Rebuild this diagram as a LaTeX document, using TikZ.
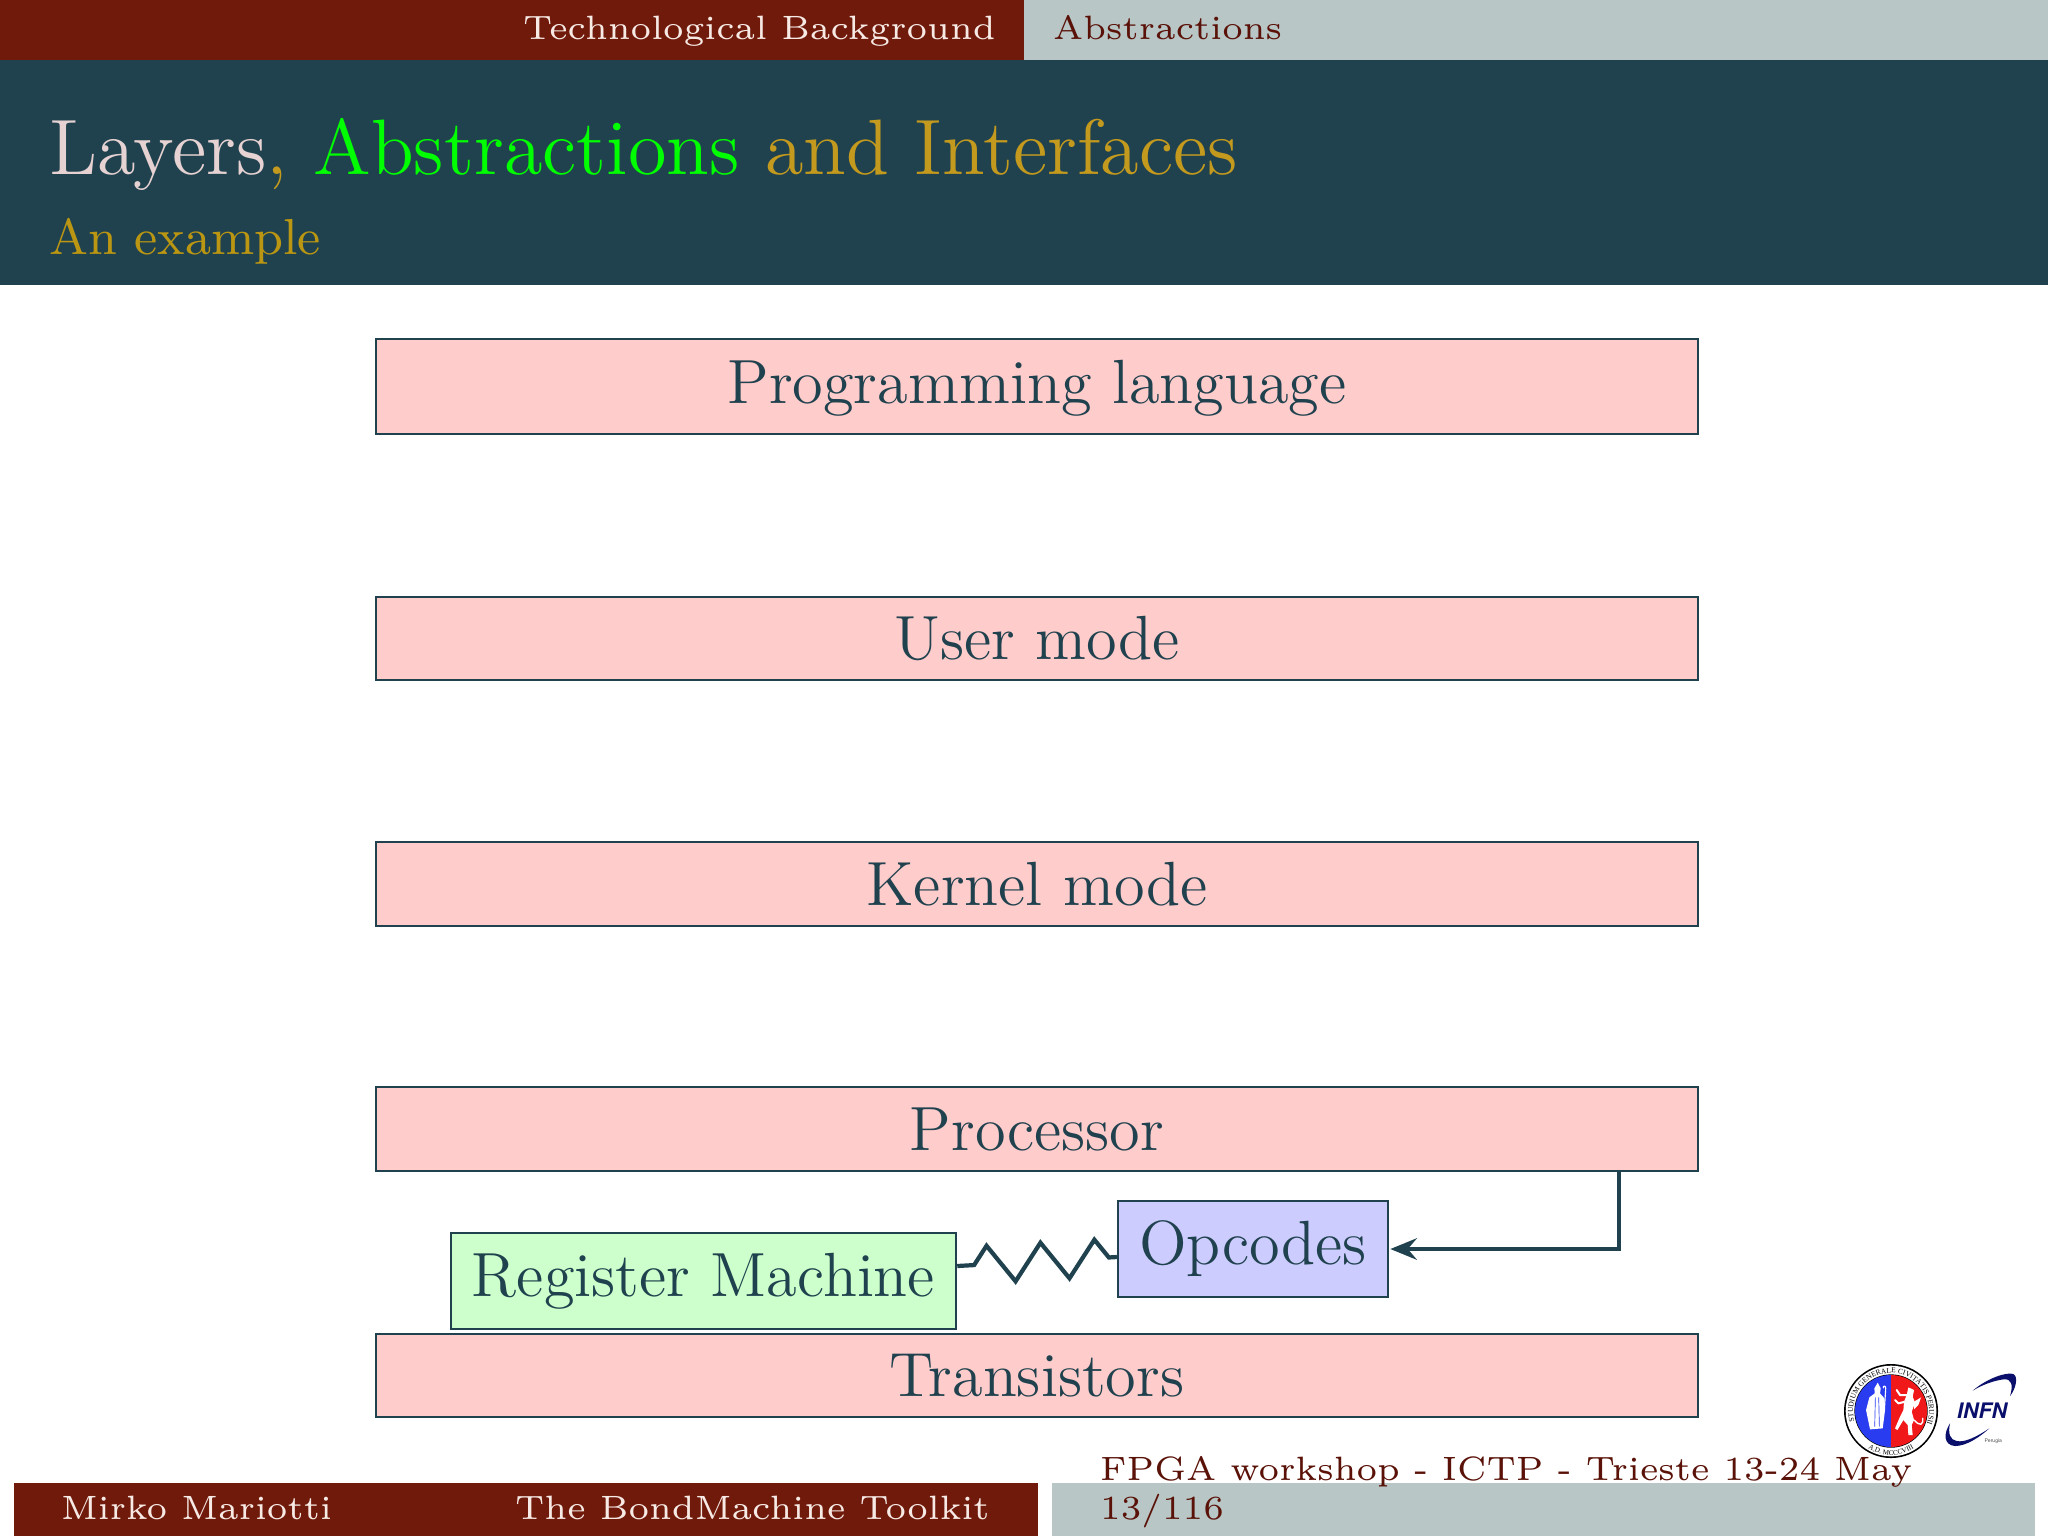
\documentclass[tikz,border=0pt]{standalone}
\usepackage{fontspec}
\newfontfamily\infnfont{TeX Gyre Heros}
\newfontfamily\sealfont{Liberation Serif}
\usetikzlibrary{arrows.meta,decorations.pathmorphing,decorations.text,calc}
\definecolor{barred}{HTML}{6F1A0B}
\definecolor{bargrey}{HTML}{B8C6C6}
\definecolor{teal}{HTML}{20424E}
\definecolor{gold}{HTML}{C49A1E}
\definecolor{subgold}{HTML}{BB9612}
\definecolor{pale}{HTML}{E6D2D2}
\definecolor{lightred}{HTML}{F7E9E4}
\definecolor{darkred}{HTML}{5A1208}
\definecolor{boxpink}{HTML}{FFCCCC}
\definecolor{boxgreen}{HTML}{CCFFCC}
\definecolor{boxblue}{HTML}{CCCCFF}
\definecolor{navy}{HTML}{0A0F6B}
\definecolor{sealblue}{HTML}{2A3CF0}
\definecolor{sealred}{HTML}{F01818}
\tikzset{
  band/.style={fill=#1,draw=none},
  lbl/.style={anchor=base west,inner sep=0pt,font=\fontsize{6}{7}\selectfont},
  plate/.style={draw=teal,line width=0.42pt,inner sep=0pt,text=teal,font=\fontsize{11.1}{13}\selectfont},
  layer/.style 2 args={plate,fill=boxpink,minimum width=235pt,text height=#1,text depth=#2},
  conn/.style={draw=teal,line width=0.75pt},
  limb/.style={draw=white,line width=0.36pt,line cap=round,line join=round},
}
\begin{document}
\begin{tikzpicture}[x=0.17778pt,y=-0.17778pt]
\useasboundingbox (0,0) rectangle (2048,1536);
\fill[white] (0,0) rectangle (2048,1536);
% bars
\fill[band=barred] (0,0) rectangle (1024,60);
\fill[band=bargrey] (1024,0) rectangle (2048,60);
\fill[band=teal] (0,60) rectangle (2048,285);
\fill[band=barred] (14,1483) rectangle (1038,1536);
\fill[band=bargrey] (1052,1483) rectangle (2035,1536);
% headers
\node[lbl,text=lightred] (sec) at (522,39) {Technological Background};
\node[lbl,text=darkred] (subsec) at (1052,39) {Abstractions};
\node[lbl,font=\fontsize{13.97}{17}\selectfont] (title) at (48,174) {\textcolor{pale}{Layers}\textcolor{gold}{,} \textcolor{green}{Abstractions} \textcolor{gold}{and Interfaces}};
\node[lbl,text=subgold,font=\fontsize{9}{11}\selectfont] (subtitle) at (48,254) {An example};
% layers
\node[layer={11.45pt}{5.44pt}] (prog) at (1037,386.5) {Programming language};
\node[layer={11.1pt}{3.66pt}] (user) at (1037,638.5) {User mode};
\node[layer={11.27pt}{3.66pt}] (kern) at (1037,884) {Kernel mode};
\node[layer={11.27pt}{3.66pt}] (proc) at (1037,1129) {Processor};
\node[layer={11.02pt}{3.73pt}] (tran) at (1037,1375.5) {Transistors};
\node[plate,fill=boxgreen,minimum width=89.8pt,text height=11.2pt,text depth=5.87pt] (reg) at (703.5,1281) {Register Machine};
\node[plate,fill=boxblue,minimum width=48pt,text height=11.2pt,text depth=5.87pt] (op) at (1253,1249) {Opcodes};
% connectors
\draw[conn,-{Stealth[length=4.7pt,width=3.8pt,inset=1.6pt]},shorten >=0.2pt] ($(proc.south east)+(-80,0)$) |- (op.east);
\draw[conn,decorate,decoration={zigzag,segment length=9.6pt,amplitude=3.3pt,pre length=3pt,post length=1pt}] ($(reg.east)+(0,-15)$) -- ($(op.west)+(0,8)$);
% footer
\node[lbl,text=lightred] (author) at (60,1519) {Mirko Mariotti};
\node[lbl,text=lightred] (talk) at (514,1519) {The BondMachine Toolkit};
\node[lbl,text=darkred] (venue) at (1099,1480) {FPGA workshop - ICTP - Trieste 13-24 May};
\node[lbl,text=darkred] (page) at (1099,1519) {13/116};
% logos, drawn in a finer grid
\begin{scope}[shift={(1780,1340)},x=0.05926pt,y=-0.05926pt]
  \fill[black] (333,213) circle[radius=141*0.05926pt];
  \fill[white] (333,213) circle[radius=136*0.05926pt];
  \fill[black] (333,213) circle[radius=110*0.05926pt];
  \begin{scope}
    \clip (333,213) circle[radius=108*0.05926pt];
    \fill[sealblue] (225,100) rectangle (333,325);
    \fill[sealred] (333,100) rectangle (445,325);
  \end{scope}
  \begin{scope}[shift={(180,60)}]
    % bishop
    \fill[white] (113,68)--(122,85)--(120,100)--(133,115)--(135,150)--(128,205)--(90,208)--(78,150)--(88,112)--(104,100)--(103,85)--cycle;
    \draw[sealblue,line width=0.12pt] (106,112)--(104,200) (116,112)--(118,200);
    \draw[limb,line width=0.2pt] (133,150)--(137,85) .. controls (138,76) and (128,76) .. (130,84);
    % griffin
    \fill[white] (205,82)--(222,90)--(218,110)--(225,128)--(215,155)--(222,180)--(215,195)--(218,225)--(205,225)--(203,195)--(190,180)--(172,210)--(165,205)--(180,170)--(190,150)--(192,125)--(200,105)--cycle;
    \draw[limb] (200,105)--(180,105)--(170,90);
    \draw[limb] (195,125)--(175,130)--(165,120);
    \fill[white] (222,125)--(243,112)--(235,135)--(222,148)--cycle;
    \draw[limb,line width=0.25pt] (222,180) .. controls (240,200) and (250,195) .. (248,175);
  \end{scope}
  \begin{scope}[shift={(333,213)},y=0.05926pt]
    \path[decorate,decoration={text along path,text align=center,text={|\sealfont\fontsize{1.32}{2}\selectfont|STUDIUM GENERALE CIVITATIS PERUSII}}] (216:114) arc (216:-40:114);
    \path[decorate,decoration={text along path,text align=center,text={|\sealfont\fontsize{1.25}{2}\selectfont|A.D. MCCCVIII}}] (226:132) arc (226:314:132);
  \end{scope}
  \fill[navy] (578,152) .. controls (620,115) and (680,95) .. (700,102) .. controls (715,110) and (708,145) .. (690,168) .. controls (700,135) and (695,115) .. (670,118) .. controls (640,122) and (605,135) .. (578,152) -- cycle;
  \fill[navy] (510,250) .. controls (490,280) and (490,315) .. (525,318) .. controls (560,318) and (600,290) .. (628,265) .. controls (590,290) and (555,308) .. (530,303) .. controls (510,300) and (503,280) .. (510,250) -- cycle;
  \node[inner sep=0pt,text=navy,font=\infnfont\bfseries\itshape\fontsize{3.8}{4}\selectfont] (infn) at (606,213) {INFN};
  \node[inner sep=0pt,text=black!70,font=\infnfont\fontsize{0.9}{1}\selectfont] (perugia) at (640,304) {Perugia};
\end{scope}
\end{tikzpicture}
\end{document}
